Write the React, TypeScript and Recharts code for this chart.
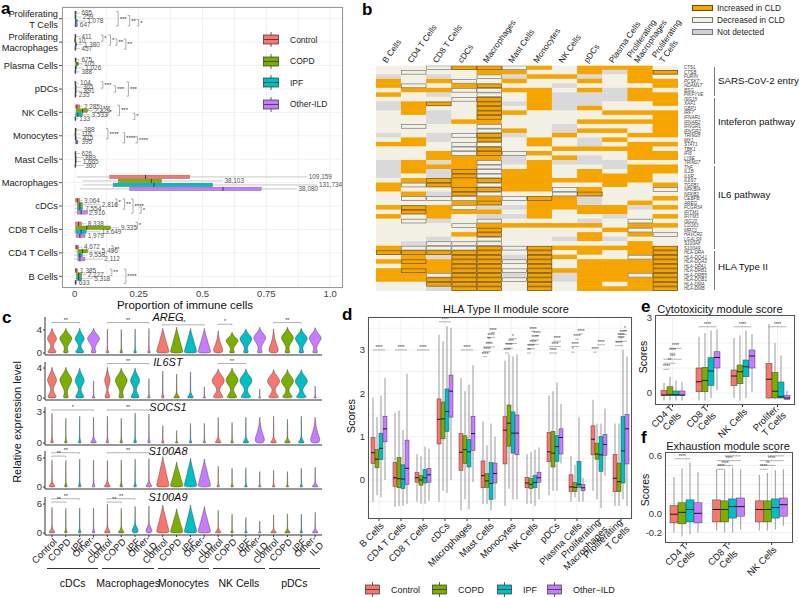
import React from 'react';
import {
  ComposedChart, ScatterChart, Scatter, Bar, XAxis, YAxis, CartesianGrid, ReferenceLine, ReferenceDot,
} from 'recharts';

const FONT = '"Liberation Sans", Arial, Helvetica, sans-serif';

const groups = ['Control', 'COPD', 'IPF', 'Other-ILD'];
const gKeys = ['ctrl', 'copd', 'ipf', 'ild'];
const gColors = ['#F8766D', '#7CAE00', '#00BFC4', '#C77CFF'];

type Sig = [number, number, number, number, string];

// ---------- a: proportion of immune cells  [min, q1, median, q3, max] ----------
const catA = ['Proliferating\nT Cells', 'Proliferating\nMacrophages', 'Plasma Cells', 'pDCs', 'NK Cells', 'Monocytes',
  'Mast Cells', 'Macrophages', 'cDCs', 'CD8 T Cells', 'CD4 T Cells', 'B Cells'];
const aCtrl = [
  [0, 0.001, 0.002, 0.006, 0.02], [0, 0.001, 0.002, 0.004, 0.02], [0, 0.001, 0.003, 0.006, 0.02],
  [0, 0.001, 0.002, 0.004, 0.015], [0, 0.003, 0.008, 0.02, 0.03], [0, 0.001, 0.003, 0.006, 0.03],
  [0, 0.001, 0.002, 0.004, 0.02], [0.007, 0.137, 0.277, 0.45, 0.91], [0, 0.004, 0.01, 0.02, 0.03],
  [0, 0.004, 0.015, 0.027, 0.045], [0, 0.003, 0.008, 0.015, 0.03], [0, 0.002, 0.005, 0.01, 0.015],
];
const aCopd = [
  [0, 0.001, 0.002, 0.005, 0.025], [0, 0.0005, 0.001, 0.002, 0.008], [0, 0.004, 0.008, 0.015, 0.03],
  [0, 0.001, 0.003, 0.006, 0.025], [0, 0.006, 0.03, 0.05, 0.07], [0, 0.001, 0.002, 0.005, 0.02],
  [0, 0.001, 0.003, 0.006, 0.035], [0.03, 0.17, 0.3, 0.34, 0.58], [0, 0.01, 0.02, 0.03, 0.1],
  [0, 0.004, 0.047, 0.14, 0.175], [0, 0.012, 0.03, 0.05, 0.1], [0, 0.007, 0.015, 0.027, 0.045],
];
const aIpf = [
  [0, 0.002, 0.004, 0.01, 0.043], [0, 0.002, 0.004, 0.008, 0.03], [0, 0.001, 0.003, 0.007, 0.035],
  [0, 0.001, 0.003, 0.006, 0.03], [0, 0.004, 0.012, 0.03, 0.06], [0, 0.001, 0.003, 0.006, 0.025],
  [0, 0.001, 0.003, 0.006, 0.025], [0.03, 0.15, 0.31, 0.54, 0.95], [0, 0.01, 0.02, 0.03, 0.035],
  [0, 0.004, 0.025, 0.045, 0.1], [0, 0.012, 0.02, 0.03, 0.05], [0, 0.007, 0.015, 0.027, 0.07],
];
const aIld = [
  [0, 0.001, 0.004, 0.01, 0.014], [0, 0.001, 0.002, 0.004, 0.02], [0, 0.001, 0.002, 0.004, 0.02],
  [0, 0.001, 0.002, 0.004, 0.01], [0, 0.001, 0.002, 0.004, 0.012], [0, 0.004, 0.008, 0.012, 0.02],
  [0, 0.001, 0.002, 0.004, 0.035], [0.02, 0.215, 0.58, 0.73, 0.87], [0, 0.01, 0.025, 0.05, 0.05],
  [0, 0.007, 0.02, 0.04, 0.045], [0, 0.012, 0.02, 0.04, 0.11], [0, 0.001, 0.003, 0.006, 0.01],
];
const aCounts = [
  ['695', '259', '1,078', '647'], ['411', '10', '1,380', '457'], ['675', '105', '1,026', '388'],
  ['104', '365', '891', '235'], ['2,285', '2,329', '3,533', '133'], ['388', '116', '415', '395'],
  ['626', '889', '1,665', '360'], ['109,159', '38,103', '131,734', '38,080'], ['3,064', '2,816', '7,554', '2,916'],
  ['8,338', '9,335', '13,649', '1,979'], ['4,672', '5,496', '9,558', '2,112'], ['1,385', '2,227', '5,318', '633'],
];
// [category, group from, group to, x value, stars]
const aSig: Sig[] = [
  [0, 0, 3, 0.17, '***'], [0, 1, 3, 0.215, '**'], [0, 2, 3, 0.25, '*'],
  [1, 0, 1, 0.11, '*'], [1, 0, 2, 0.14, '*'], [1, 1, 2, 0.165, '**'], [1, 1, 3, 0.2, '**'],
  [3, 0, 1, 0.11, '***'], [3, 1, 2, 0.16, '***'], [3, 0, 3, 0.21, '***'],
  [4, 0, 1, 0.105, '***'], [4, 1, 2, 0.13, '*'], [4, 0, 2, 0.175, '***'], [4, 2, 3, 0.235, '*'],
  [5, 0, 2, 0.13, '****'], [5, 1, 3, 0.195, '****'], [5, 2, 3, 0.245, '****'],
  [8, 0, 1, 0.165, '*'], [8, 0, 2, 0.195, '**'], [8, 0, 3, 0.228, '****'], [8, 2, 3, 0.26, '*'],
  [9, 0, 1, 0.245, '*'], [10, 0, 1, 0.15, '**'], [11, 0, 1, 0.145, '**'], [11, 0, 3, 0.2, '****'],
];

// ---------- b: heatmap ----------
const hmCols = ['B Cells', 'CD4 T Cells', 'CD8 T Cells', 'cDCs', 'Macrophages', 'Mast Cells', 'Monocytes', 'NK Cells',
  'pDCs', 'Plasma Cells', 'Proliferating\nMacrophages', 'Proliferating\nT Cells'];
const hmGenes = ['CTSL', 'CTSB', 'FURIN', 'PCSK7', 'ADAM17', 'BSG', 'PIKFYVE',
  'ISG15', 'XAF1', 'GBP1', 'IRF7', 'IFNAR1', 'IFNAR2', 'IFNGR1', 'IFNGR2', 'TRIM28', 'MX1', 'STAT1', 'TBK1', 'IFI6', 'LY6E', 'TRIM27',
  'TNF', 'IL1B', 'IL6R', 'IL6ST', 'TGFB1', 'NFKBIA', 'NFKB2', 'CEBPB', 'AREG', 'FCGR3A', 'IFITM1', 'IFITM3', 'ISG20', 'CD163',
  'MRC1', 'HAVCR2', 'LGALS9', 'S100A8', 'S100A9',
  'HLA-DRA', 'HLA-DQA1', 'HLA-DQA2', 'HLA-DPA1', 'HLA-DRB1', 'HLA-DRB5', 'HLA-DQB1', 'HLA-DMA', 'HLA-DMB'];
// O increased, o increased (significant), W decreased, w decreased (significant), G not detected
const hmStates = [
  'WWwoowOWOOOW', 'WwWWOOWWOGOo', 'GWGWwGOOGWOW', 'OWOwWOWWOWOO', 'OwWOoWWGWWWO', 'WOOwwOOWOGOW', 'OWGWwWOGGGOO',
  'WWWwoWOGGGOO', 'GOoWoGOGGWWO', 'GOWWoWOGOWWW', 'WOGWoOWWWOOO', 'WWGWoWWWWWWO', 'WWGOOWWWOOOO', 'WwWWwWWGWWWO',
  'WWWWwOWGOOWO', 'GWGwoGWOWWOO', 'WOGWoWOWGOWW', 'OOWwwWOWGWOO', 'WWWwoWWOOOOW', 'WWOwowOWWWOO', 'WWOOOGWOGWOO',
  'GOGOwGOGGGWW', 'GOOOwWOWWGOO', 'GOGowOOWOWOO', 'GWGowOOWOOOW', 'WOoOoOOOOOOW', 'OwoOwOOWWOWO', 'OWWooOOwOWWw',
  'WOGowWWwoWWW', 'WwwwOwoOGWWO', 'WWWOoWOOGWOW', 'OoOwGGOOOOGO', 'WoOOOWOWOOWW', 'OWOWGGOWWGWO', 'WwGWwWWWGWwW',
  'WWWwOOOOOWOO', 'WWWWoWWWWOwW', 'WWWOoWWWOWOw', 'WWGWwWWGOGWW', 'WGwwwWWWWWOW', 'OwwwowoOOOOo',
  'oooooWoWOWOo', 'WOGooGoOWWwo', 'OoOoowoWOOOo', 'WOOooWoWOOOo', 'OoOoowoOOOOo', 'OOwooGoGOOwo', 'OOooowoGOOOo',
  'WWoooWoWOWOo', 'WWGooWoWOOOo',
];
const hmGroups: [string, number, number, number][] = [
  ['SARS-CoV-2 entry', 0, 6, 81], ['Inteferon pathway', 7, 21, 122], ['IL6 pathway', 22, 40, 195], ['HLA Type II', 41, 49, 267],
];

// ---------- c: violins ----------
const cCells = ['cDCs', 'Macrophages', 'Monocytes', 'NK Cells', 'pDCs'];
const cGenes = ['AREG', 'IL6ST', 'SOCS1', 'S100A8', 'S100A9'];
const cMax = [
  [4.3, 4.3, 4.3, 4.3, 4.2, 4.1, 4.2, 4.3, 4.3, 4.5, 4.3, 4.3, 3.9, 3.6, 4.2, 4.5, 4.2, 4.5, 4.3, 4.4],
  [4.1, 4.1, 4.0, 2.3, 4.1, 4.0, 4.0, 2.6, 3.6, 3.2, 3.5, 1.5, 3.9, 4.0, 3.9, 1.2, 3.8, 3.8, 3.8, 1.6],
  [2.9, 2.4, 2.6, 2.5, 2.6, 2.4, 2.9, 2.8, 1.7, 1.2, 1.9, 1.9, 2.5, 2.0, 2.5, 2.5, 2.6, 2.3, 2.6, 2.5],
  [5.6, 5.5, 5.8, 5.6, 5.5, 5.6, 5.8, 5.9, 6.3, 5.2, 6.0, 5.8, 4.3, 3.9, 4.0, 3.2, 3.5, 3.2, 3.9, 4.1],
  [5.3, 5.1, 5.2, 5.2, 6.0, 5.1, 5.5, 5.6, 5.8, 5.0, 5.8, 5.5, 4.7, 3.9, 3.2, 2.5, 3.8, 4.0, 3.9, 4.3],
];
const cShape = [
  ['bimodal', 'diamond', 'bimodal', 'diamond', 'spike', 'spike', 'spike', 'spike', 'tent', 'tent', 'tent', 'tent',
    'tear', 'diamond', 'diamond', 'diamond', 'tear', 'diamond', 'diamond', 'diamond'],
  ['bimodal', 'diamond', 'bimodal', 'spike', 'thin', 'diamond', 'bimodal', 'spike', 'spike', 'blob', 'blob', 'spike',
    'bowtie', 'bowtie', 'bowtie', 'spike', 'bowtie', 'bowtie', 'bowtie', 'spike'],
  ['spike', 'spike', 'spike', 'blob', 'spike', 'spike', 'spike', 'spike', 'spike', 'spike', 'spike', 'spike',
    'blob', 'spike', 'blob', 'tear', 'blob', 'blob', 'blob', 'tear'],
  ['blob', 'spike', 'spike', 'spike', 'blob', 'spike', 'spike', 'blob', 'tent', 'tent', 'tent', 'tent',
    'spike', 'spike', 'spike', 'spike', 'spike', 'spike', 'spike', 'blob'],
  ['blob', 'spike', 'spike', 'spike', 'blob', 'blob', 'lowBulb', 'lowBulb', 'tent', 'tent', 'tent', 'tent',
    'blob', 'spike', 'spike', 'spike', 'blob', 'blob', 'spike', 'blob'],
];
const cTicks = [[0, 4], [0, 4], [0, 3], [0, 6], [0, 6]];
// [cell, group from, group to, y value, stars]
const cSig: Sig[][] = [
  [[0, 0, 2, 5.3, '**'], [1, 0, 3, 5.3, '**'], [2, 0, 3, 4.9, '**'], [3, 0, 1, 5.0, '*'], [4, 0, 2, 5.3, '**']],
  [[1, 0, 3, 4.6, '**'], [3, 0, 2, 4.6, '**']],
  [[0, 0, 3, 3.2, '*'], [1, 0, 3, 3.2, '**']],
  [[0, 0, 1, 6.4, '**'], [0, 0, 2, 7.1, '**'], [1, 0, 3, 7.1, '**']],
  [[0, 0, 1, 6.4, '**'], [0, 0, 2, 7.1, '**'], [1, 0, 1, 6.4, '**'], [1, 0, 2, 7.1, '**']],
];
const profiles: Record<string, number[]> = {
  spike: [0.3, 0.09, 0.045, 0.035, 0.03, 0.03, 0.028, 0.025, 0.02, 0.015, 0],
  blob: [0.6, 0.25, 0.07, 0.04, 0.035, 0.03, 0.028, 0.025, 0.02, 0.015, 0],
  lowBulb: [0.4, 0.5, 0.3, 0.1, 0.05, 0.035, 0.03, 0.025, 0.02, 0.015, 0],
  bimodal: [0.75, 0.55, 0.25, 0.2, 0.35, 0.65, 0.75, 0.55, 0.3, 0.1, 0],
  thin: [0.45, 0.3, 0.12, 0.1, 0.22, 0.4, 0.45, 0.3, 0.15, 0.05, 0],
  diamond: [0.45, 0.3, 0.22, 0.35, 0.6, 0.85, 1.0, 0.75, 0.4, 0.12, 0],
  tent: [1.0, 0.95, 0.85, 0.72, 0.6, 0.5, 0.4, 0.28, 0.17, 0.07, 0],
  bowtie: [0.9, 0.6, 0.3, 0.22, 0.45, 0.85, 1.0, 0.8, 0.45, 0.12, 0],
  tear: [0.55, 0.75, 0.7, 0.55, 0.42, 0.3, 0.2, 0.13, 0.08, 0.04, 0],
};

// ---------- d: HLA type II module score ----------
const catD = ['B Cells', 'CD4 T Cells', 'CD8 T Cells', 'cDCs', 'Macrophages', 'Mast Cells', 'Monocytes', 'NK Cells',
  'pDCs', 'Plasma Cells', 'Proliferating\nMacrophages', 'Proliferating\nT Cells'];
const dCtrl = [
  [-0.5, 0.38, 0.63, 0.98, 1.9], [-0.62, -0.15, 0.05, 0.4, 1.55], [-0.5, -0.05, 0.05, 0.17, 0.6], [-0.5, 0.83, 1.4, 1.87, 3.35],
  [-0.7, 0.22, 0.64, 1.07, 2.35], [-0.55, -0.18, 0.1, 0.44, 1.35], [-0.6, 0.37, 1.15, 1.46, 2.75], [-0.55, -0.18, -0.07, 0.06, 0.6],
  [-0.35, 0.42, 0.65, 1.1, 1.95], [-0.5, -0.27, -0.16, 0.12, 0.55], [-0.25, 0.58, 0.94, 1.25, 1.85], [-0.6, -0.27, 0.04, 0.59, 1.3],
];
const dCopd = [
  [-0.35, 0.28, 0.48, 0.7, 1.45], [-0.6, -0.18, 0.03, 0.52, 1.6], [-0.55, -0.12, 0.0, 0.1, 0.55], [-0.25, 0.95, 1.41, 1.8, 3.2],
  [-0.45, 0.38, 0.7, 1.02, 2.05], [-0.55, -0.17, -0.02, 0.15, 0.8], [-0.2, 0.78, 1.31, 1.73, 2.9], [-0.55, -0.2, -0.1, 0.03, 0.65],
  [-0.25, 0.3, 0.62, 1.12, 2.05], [-0.4, -0.27, -0.17, -0.06, 0.35], [-0.45, 0.48, 0.6, 0.85, 1.3], [-0.6, -0.27, -0.04, 0.39, 1.3],
];
const dIpf = [
  [-0.4, 0.47, 0.73, 1.08, 1.95], [-0.6, -0.2, 0.02, 0.35, 1.15], [-0.55, -0.07, 0.05, 0.24, 0.77], [-0.3, 1.12, 1.58, 2.1, 3.55],
  [-0.68, 0.3, 0.65, 0.93, 2.2], [-0.7, -0.45, -0.08, 0.4, 1.3], [-0.45, 0.62, 1.08, 1.57, 2.85], [-0.6, -0.18, -0.06, 0.1, 0.7],
  [-0.25, 0.43, 0.77, 1.02, 2.25], [-0.5, -0.17, -0.1, 0.43, 1.45], [-0.65, 0.2, 0.58, 1.0, 1.3], [-0.45, -0.07, 0.67, 1.46, 3.0],
];
const dIld = [
  [0.0, 0.88, 1.18, 1.47, 2.35], [-0.55, -0.1, 0.27, 0.92, 2.45], [-0.48, -0.05, 0.12, 0.27, 0.72], [0.0, 1.45, 2.05, 2.42, 3.5],
  [-0.05, 0.68, 1.07, 1.47, 2.65], [-0.45, -0.07, 0.15, 0.39, 1.0], [-0.45, 0.58, 1.08, 1.5, 2.9], [-0.45, -0.05, 0.05, 0.18, 0.75],
  [0.38, 0.6, 0.98, 1.18, 1.75], [-0.5, -0.25, -0.18, -0.1, 0.05], [0.1, 0.57, 0.82, 1.05, 1.65], [-0.6, 0.37, 1.18, 1.51, 2.85],
];
const dSig: Sig[] = [
  [0, 0, 3, 3.0, '****'], [1, 0, 3, 3.0, '****'], [2, 0, 3, 3.0, '****'], [3, 0, 3, 3.65, '****'], [4, 0, 3, 3.0, '****'],
  [5, 0, 1, 2.85, '****'], [5, 0, 2, 2.96, '****'], [5, 0, 3, 3.07, '****'], [5, 1, 2, 3.18, '**'], [5, 1, 3, 3.29, '****'], [5, 2, 3, 3.4, '****'],
  [6, 0, 1, 2.93, '****'], [6, 0, 2, 3.04, '****'], [6, 0, 3, 3.15, '***'], [6, 1, 3, 3.26, '*'],
  [7, 0, 1, 2.93, '**'], [7, 0, 2, 3.03, '****'], [7, 0, 3, 3.13, '****'], [7, 1, 3, 3.23, '****'], [7, 2, 3, 3.33, '****'], [7, 1, 2, 3.43, '****'],
  [8, 0, 2, 2.93, '****'], [8, 0, 3, 3.08, '****'], [8, 1, 3, 3.2, '****'],
  [9, 0, 1, 2.95, '*'], [9, 0, 2, 3.08, '****'], [9, 1, 2, 3.25, '****'], [9, 2, 3, 3.37, '****'],
  [10, 0, 1, 2.95, '****'], [10, 1, 3, 3.12, '****'],
  [11, 0, 2, 3.1, '****'], [11, 0, 3, 3.2, '****'], [11, 1, 2, 3.28, '****'], [11, 1, 3, 3.36, '****'], [11, 2, 3, 3.45, '*'],
];

// ---------- e: cytotoxicity module score ----------
const catE = ['CD4 T\nCells', 'CD8 T\nCells', 'NK Cells', 'Prolifer.\nT Cells'];
const eCtrl = [[-0.3, -0.1, -0.08, 0.1, 0.4], [-0.3, 0.05, 0.45, 1.0, 2.25], [-0.2, 0.29, 0.68, 0.92, 2.2], [-0.25, -0.2, 0.55, 1.18, 2.75]];
const eCopd = [[-0.3, -0.1, -0.07, 0.25, 0.65], [-0.3, 0.05, 0.5, 1.03, 2.4], [-0.3, 0.37, 0.85, 1.12, 2.3], [-0.25, -0.2, 0.07, 0.82, 2.0]];
const eIpf = [[-0.3, -0.1, -0.07, 0.08, 0.5], [-0.2, 0.3, 0.88, 1.41, 2.5], [-0.2, 0.65, 1.05, 1.32, 2.5], [-0.25, -0.2, -0.15, 0.44, 1.5]];
const eIld = [[-0.3, -0.1, -0.08, 0.08, 0.45], [0.1, 1.0, 1.42, 1.65, 2.55], [0.05, 1.0, 1.48, 1.72, 2.35], [-0.28, -0.25, -0.2, -0.1, 0.1]];
const eSig: Sig[] = [
  [0, 0, 1, 0.95, '****'], [0, 0, 2, 1.19, '**'], [0, 0, 3, 1.35, '***'], [0, 1, 2, 1.59, '****'], [0, 1, 3, 1.79, '****'],
  [1, 0, 3, 2.65, '****'], [2, 0, 3, 2.65, '****'], [3, 0, 3, 2.65, '****'],
];

// ---------- f: exhaustion module score ----------
const catF = ['CD4 T\nCells', 'CD8 T\nCells', 'NK Cells'];
const fCtrl = [[-0.2, -0.1, -0.01, 0.08, 0.38], [-0.18, -0.09, 0.04, 0.14, 0.46], [-0.18, -0.09, 0.04, 0.13, 0.4]];
const fCopd = [[-0.24, -0.11, 0.01, 0.11, 0.47], [-0.2, -0.09, 0.04, 0.13, 0.45], [-0.18, -0.09, 0.04, 0.13, 0.42]];
const fIpf = [[-0.22, -0.09, 0.04, 0.14, 0.53], [-0.2, -0.05, 0.07, 0.15, 0.48], [-0.17, -0.05, 0.06, 0.15, 0.45]];
const fIld = [[-0.2, -0.1, 0.0, 0.11, 0.43], [-0.17, -0.03, 0.07, 0.16, 0.46], [-0.13, -0.03, 0.09, 0.16, 0.46]];
const fSig: Sig[] = [
  [0, 0, 2, 0.57, '****'],
  [1, 0, 1, 0.46, '****'], [1, 0, 2, 0.5, '****'], [1, 0, 3, 0.55, '****'], [1, 1, 3, 0.6, '****'],
  [2, 0, 1, 0.46, '****'], [2, 0, 2, 0.5, '**'], [2, 0, 3, 0.55, '****'], [2, 1, 3, 0.6, '***'],
];

// ---------- helpers ----------
const boxRows = (cats: string[], sets: number[][][], counts?: string[][]) =>
  cats.map((cat, i) => ({ cat, idx: i, ctrl: sets[0][i], copd: sets[1][i], ipf: sets[2][i], ild: sets[3][i], n: counts ? counts[i] : [] }));

// hidden index axes span [0, n-1] across the plot; map a band position (centre of band i = i) onto them
const onIdx = (p: number, n: number) => ((p + 0.5) * (n - 1)) / n;

const HBox = (p: any) => {
  const b: number[] = p.payload[p.gk];
  const lo = Math.min(p.x, p.x + p.width);
  const hi = Math.max(p.x, p.x + p.width);
  const px = (v: number) => lo + ((v - b[0]) / (b[4] - b[0])) * (hi - lo);
  const cy = p.y + p.height / 2;
  const q1 = px(b[1]);
  const q3 = px(b[3]);
  return (
    <g>
      <line x1={px(b[0])} x2={px(b[4])} y1={cy} y2={cy} stroke="#b0b0b0" strokeWidth={0.7} />
      <rect x={q1} y={p.y + 0.2} width={Math.max(1, q3 - q1)} height={p.height - 0.4} fill={gColors[p.gi]} stroke="#666" strokeWidth={0.35} />
      <line x1={px(b[2])} x2={px(b[2])} y1={p.y} y2={p.y + p.height} stroke="#333" strokeWidth={0.9} />
      <text x={px(b[4]) + 1.5} y={cy + 2.2} fontSize={6.4} fill="#555" fontFamily={FONT}>{p.payload.n[p.gi]}</text>
    </g>
  );
};

const VBox = (p: any) => {
  const b: number[] = p.payload[p.gk];
  const top = Math.min(p.y, p.y + p.height);
  const bot = Math.max(p.y, p.y + p.height);
  const py = (v: number) => bot - ((v - b[0]) / (b[4] - b[0])) * (bot - top);
  const cx = p.x + p.width / 2;
  return (
    <g>
      <line x1={cx} x2={cx} y1={py(b[4])} y2={py(b[0])} stroke="#555" strokeWidth={0.6} />
      <rect x={p.x} y={py(b[3])} width={p.width} height={Math.max(0.6, py(b[1]) - py(b[3]))} fill={gColors[p.gi]} stroke="#444" strokeWidth={0.5} />
      <line x1={p.x} x2={p.x + p.width} y1={py(b[2])} y2={py(b[2])} stroke="#1a1a1a" strokeWidth={1} />
    </g>
  );
};

const VW = 6.3;
const Violin = (p: any) => {
  const d = p.payload;
  const prof = profiles[d.shape];
  const top = Math.min(p.y, p.y + p.height);
  const bot = Math.max(p.y, p.y + p.height);
  const cx = p.x + p.width / 2;
  const n = prof.length - 1;
  const left = prof.map((w, i) => [cx - w * VW, bot - (i / n) * (bot - top)]);
  const right = prof.map((w, i) => [cx + w * VW, bot - (i / n) * (bot - top)]).reverse();
  const pts = [...left, ...right];
  let path = `M${(pts[pts.length - 1][0] + pts[0][0]) / 2},${pts[0][1]}`;
  for (let i = 0; i < pts.length; i++) {
    const a = pts[i];
    const b = pts[(i + 1) % pts.length];
    path += ` Q${a[0]},${a[1]} ${(a[0] + b[0]) / 2},${(a[1] + b[1]) / 2}`;
  }
  return <path d={path + 'Z'} fill={gColors[d.g]} stroke="#333" strokeWidth={0.4} />;
};

const starText = (t: string, fs: number, dx: number, dy: number, anchor: string) => (p: any) => (
  <text x={p.cx + dx} y={p.cy + dy} textAnchor={anchor} fontSize={fs} fill="#333" fontFamily={FONT}>{t}</text>
);

// brackets for vertical box/violin charts: horizontal line at y = v between two band positions
function sigVert(sig: Sig[], n: number, xa: (s: Sig) => number, xb: (s: Sig) => number, tip: number, fs: number, pre: string) {
  return sig.flatMap((s, i) => {
    const a = onIdx(xa(s), n);
    const b = onIdx(xb(s), n);
    const v = s[3];
    const out = [
      <ReferenceLine key={`${pre}m${i}`} xAxisId="n" segment={[{ x: a, y: v }, { x: b, y: v }]} stroke="#666" strokeWidth={0.5} ifOverflow="visible" />,
      <ReferenceDot key={`${pre}t${i}`} xAxisId="n" x={(a + b) / 2} y={v} r={0} ifOverflow="visible" shape={starText(s[4], fs, 0, -0.8, 'middle')} />,
    ];
    if (tip > 0) {
      out.push(<ReferenceLine key={`${pre}a${i}`} xAxisId="n" segment={[{ x: a, y: v }, { x: a, y: v - tip }]} stroke="#666" strokeWidth={0.5} ifOverflow="visible" />);
      out.push(<ReferenceLine key={`${pre}b${i}`} xAxisId="n" segment={[{ x: b, y: v }, { x: b, y: v - tip }]} stroke="#666" strokeWidth={0.5} ifOverflow="visible" />);
    }
    return out;
  });
}

const RotTick = (p: any) => {
  const lines = String(p.payload.value).split('\n');
  return (
    <g transform={`translate(${p.x + 3},${p.y + 1})`}>
      <text transform="rotate(-45)" textAnchor="end" fontSize={9.5} fill="#1a1a1a" fontFamily={FONT}>
        {lines.map((l, i) => (
          <tspan key={i} x={0} dy={i === 0 ? 3.5 - (lines.length - 1) * 5 : 10}>{l}</tspan>
        ))}
      </text>
    </g>
  );
};

const ATick = (p: any) => {
  const lines = String(p.payload.value).split('\n');
  return (
    <text x={p.x} y={p.y} textAnchor="end" fontSize={9.3} fill="#1a1a1a" fontFamily={FONT}>
      {lines.map((l, i) => (
        <tspan key={i} x={p.x} dy={i === 0 ? 3.3 - (lines.length - 1) * 5.5 : 11.5}>{l}</tspan>
      ))}
    </text>
  );
};

const HTick = (p: any) => {
  const lines = hmCols[p.payload.value].split('\n');
  return (
    <text transform={`translate(${p.x - 2},${p.y}) rotate(-55)`} fontSize={8.3} fill="#1a1a1a" fontFamily={FONT}>
      {lines.map((l, i) => (
        <tspan key={i} x={0} dy={i === 0 ? -(lines.length - 1) * 9 : 9}>{l}</tspan>
      ))}
    </text>
  );
};

const cellW = 302 / hmCols.length;
const cellH = 225.5 / hmGenes.length;
const cellStyle: Record<string, [string, string]> = {
  O: ['#F6A400', 'none'], o: ['#F6A400', '#6a4a08'], W: ['#F3F1E5', 'none'], w: ['#F3F1E5', '#777'], G: ['#D9D9D9', 'none'],
};
const HeatCell = (p: any) => {
  const [fill, stroke] = cellStyle[p.payload.s];
  const k = stroke === 'none' ? -0.25 : 0.35;
  return (
    <rect x={p.cx - cellW / 2 + k} y={p.cy - cellH / 2 + k} width={cellW - 2 * k} height={cellH - 2 * k}
      fill={fill} stroke={stroke} strokeWidth={stroke === 'none' ? 0 : 0.7} />
  );
};

const Frame = ({ x0, y0, x1, y1, color }: any) => (
  <div style={{ position: 'absolute', left: x0, top: y0, width: x1 - x0, height: y1 - y0, border: `0.8px solid ${color}`, boxSizing: 'border-box', pointerEvents: 'none' }} />
);
const Txt = ({ x, y, size, children, bold, italic, anchor = 'left', color = '#111' }: any) => (
  <div style={{
    position: 'absolute', left: anchor === 'center' ? x - 150 : x, top: y - size / 2, width: anchor === 'center' ? 300 : undefined,
    textAlign: anchor === 'center' ? 'center' : 'left', fontSize: size, lineHeight: `${size}px`, fontWeight: bold ? 700 : 400,
    fontStyle: italic ? 'italic' : 'normal', color, whiteSpace: 'nowrap',
  }}>{children}</div>
);
const Letter = ({ x, base, children }: any) => (
  <div style={{ position: 'absolute', left: x, top: base - 14.4, fontSize: 17, lineHeight: '17px', fontWeight: 700, color: '#000' }}>{children}</div>
);
const VText = ({ x, y, size, children }: any) => (
  <div style={{ position: 'absolute', left: x - 100, top: y - 8, width: 200, height: 16, textAlign: 'center', fontSize: size, lineHeight: '16px', transform: 'rotate(-90deg)', color: '#111' }}>{children}</div>
);
const Key = ({ color, w, h }: any) => (
  <svg width={w} height={h + 6} style={{ display: 'block' }}>
    <line x1={w / 2} x2={w / 2} y1={0} y2={h + 6} stroke="#333" strokeWidth={0.8} />
    <rect x={0.5} y={3} width={w - 1} height={h} fill={color} stroke="#333" strokeWidth={0.7} />
    <line x1={0.5} x2={w - 0.5} y1={3 + h / 2} y2={3 + h / 2} stroke="#333" strokeWidth={0.8} />
  </svg>
);

function VBoxChart(props: any) {
  const { data, width, height, margin, yWidth, xHeight, domain, ticks, fmt, barSize, plotW, sig, starSize } = props;
  const n = data.length;
  const off = (g: number) => ((g - 1.5) * barSize) / (plotW / n);
  return (
    <ComposedChart width={width} height={height} data={data} margin={margin} barGap={0} barSize={barSize}>
      <CartesianGrid stroke="#EBEBEB" strokeWidth={0.7} />
      <XAxis dataKey="cat" interval={0} tick={<RotTick />} height={xHeight} tickSize={2} tickLine={{ stroke: '#333' }} axisLine={false} />
      <XAxis xAxisId="n" type="number" domain={[0, n - 1]} hide allowDataOverflow />
      <YAxis type="number" domain={domain} ticks={ticks} tickFormatter={fmt} width={yWidth} interval={0} allowDataOverflow
        tick={{ fontSize: 9.5, fill: '#333', fontFamily: FONT }} tickLine={false} axisLine={false} tickSize={0} tickMargin={3} />
      {gKeys.map((k, gi) => (
        <Bar key={k} dataKey={(d: any) => [d[k][0], d[k][4]]} isAnimationActive={false}
          shape={(p: any) => <VBox {...p} gk={k} gi={gi} />} />
      ))}
      {sigVert(sig, n, (s) => s[0] + off(s[1]), (s) => s[0] + off(s[2]), 0, starSize, 'v')}
    </ComposedChart>
  );
}

const aData = boxRows(catA, [aCtrl, aCopd, aIpf, aIld], aCounts);
const dData = boxRows(catD, [dCtrl, dCopd, dIpf, dIld]);
const eData = boxRows(catE, [eCtrl, eCopd, eIpf, eIld]);
const fData = boxRows(catF, [fCtrl, fCopd, fIpf, fIld]);
const hmData = hmStates
  .flatMap((row, r) => row.split('').map((s, c) => ({ x: c, y: r, s })))
  .sort((a, b) => Number(a.s === 'o' || a.s === 'w') - Number(b.s === 'o' || b.s === 'w'));
const violinRows = cGenes.map((_, gi) =>
  cCells.flatMap((cell, ci) => groups.map((g, k) => ({
    k: `${cell}|${g}`, g: k, max: cMax[gi][ci * 4 + k], shape: cShape[gi][ci * 4 + k],
  }))));

// layout of the violin rows: baseline (y pixel of 0) and px per unit
const cBase = [353, 398, 443, 487, 533];
const cPpu = [5.75, 7.5, 10.33, 4.83, 4.83];

const aOff = (g: number) => ((g - 1.5) * 4) / (281 / 12);

export default function App() {
  const fmtE = (v: number) => (v === 0 || v === 3 ? String(v) : '');
  const fmtF = (v: number) => (Math.abs(v - 0.6) < 1e-6 ? '0.6' : Math.abs(v) < 1e-6 ? '0.0' : Math.abs(v + 0.2) < 1e-6 ? '-0.2' : '');
  const fmtD = (v: number) => (Number.isInteger(v) ? String(v) : '');
  const cGroupX = (ci: number) => 45 + ci * (277 / 5);
  const nA = catA.length;
  return (
    <div style={{ position: 'absolute', left: 0, top: 0, width: 799, height: 597, background: '#fff', fontFamily: FONT, overflow: 'hidden' }}>
      <style>{'.recharts-surface{overflow:visible}'}</style>

      {/* ---------------- a ---------------- */}
      <div style={{ position: 'absolute', left: 0, top: 0 }}>
        <ComposedChart layout="vertical" width={350} height={312} data={aData} margin={{ top: 7, right: 7, bottom: 10, left: 8 }} barGap={0} barSize={4}>
          <CartesianGrid stroke="#EBEBEB" strokeWidth={0.7} />
          <XAxis type="number" domain={[-0.05, 1.05]} ticks={[0, 0.125, 0.25, 0.375, 0.5, 0.625, 0.75, 0.875, 1]} interval={0}
            tickFormatter={(v: number) => (v === 0 ? '0' : v === 0.25 ? '0.25' : v === 0.5 ? '0.5' : v === 0.75 ? '0.75' : v === 1 ? '1.0' : '')}
            tick={{ fontSize: 9.5, fill: '#444', fontFamily: FONT }} tickLine={false} axisLine={false} height={14} tickSize={0} tickMargin={2} allowDataOverflow />
          <YAxis type="category" dataKey="cat" width={54} interval={0} tick={<ATick />} tickSize={3} tickLine={{ stroke: '#555' }} axisLine={false} tickMargin={1} />
          <YAxis yAxisId="n" type="number" domain={[0, nA - 1]} hide allowDataOverflow />
          {gKeys.map((k, gi) => (
            <Bar key={k} dataKey={(d: any) => [d[k][0], d[k][4]]} isAnimationActive={false}
              shape={(p: any) => <HBox {...p} gk={k} gi={gi} />} />
          ))}
          {aSig.flatMap(([c, g1, g2, v, t], i) => {
            const a = onIdx(c + aOff(g1) - 0.05, nA);
            const b = onIdx(c + aOff(g2) + 0.05, nA);
            return [
              <ReferenceLine key={`as${i}`} yAxisId="n" segment={[{ x: v, y: a }, { x: v, y: b }]} stroke="#777" strokeWidth={0.6} ifOverflow="visible" />,
              <ReferenceLine key={`at${i}`} yAxisId="n" segment={[{ x: v - 0.008, y: a }, { x: v, y: a }]} stroke="#777" strokeWidth={0.6} ifOverflow="visible" />,
              <ReferenceLine key={`ab${i}`} yAxisId="n" segment={[{ x: v - 0.008, y: b }, { x: v, y: b }]} stroke="#777" strokeWidth={0.6} ifOverflow="visible" />,
              <ReferenceDot key={`ad${i}`} yAxisId="n" x={v} y={(a + b) / 2} r={0} ifOverflow="visible" shape={starText(t, 6, 1.5, 2, 'start')} />,
            ];
          })}
        </ComposedChart>
      </div>
      <Frame x0={62} y0={7} x1={343} y1={288} color="#999" />
      <Txt x={185} y={306} size={11.5} anchor="center">Proportion of immune cells</Txt>
      {groups.map((g, i) => (
        <div key={g} style={{ position: 'absolute', left: 263, top: 32 + i * 21.5, display: 'flex', alignItems: 'center' }}>
          <Key color={gColors[i]} w={16} h={9} />
          <span style={{ marginLeft: 11, fontSize: 8.5, color: '#222' }}>{g}</span>
        </div>
      ))}

      {/* ---------------- b ---------------- */}
      <div style={{ position: 'absolute', left: 340, top: 0 }}>
        <ScatterChart width={380} height={300} margin={{ top: 5, right: 8, bottom: 9, left: 36 }}>
          <XAxis type="number" dataKey="x" orientation="top" domain={[-0.5, 11.5]} ticks={hmCols.map((_, i) => i)} interval={0}
            tick={<HTick />} tickLine={false} axisLine={false} height={60.5} tickSize={0} tickMargin={2} allowDataOverflow />
          <YAxis type="number" dataKey="y" orientation="right" domain={[-0.5, 49.5]} reversed ticks={hmGenes.map((_, i) => i)} interval={0}
            tickFormatter={(v: number) => hmGenes[v]} tick={{ fontSize: 4.6, fontStyle: 'italic', fill: '#444', fontFamily: FONT }}
            tickLine={false} axisLine={false} width={34} tickSize={0} tickMargin={6} allowDataOverflow />
          <Scatter data={hmData} shape={HeatCell} isAnimationActive={false} />
        </ScatterChart>
      </div>
      {hmGroups.map(([name, r0, r1, ly]) => (
        <React.Fragment key={name}>
          <div style={{ position: 'absolute', left: 713.5, top: 65.5 + r0 * cellH + 1, width: 1.2, height: (r1 - r0 + 1) * cellH - 2, background: '#777' }} />
          <Txt x={718} y={ly} size={9.7}>{name}</Txt>
        </React.Fragment>
      ))}
      {[['#F6A400', '#6a4a08', 'Increased in CLD'], ['#F3F1E5', '#777', 'Decreased in CLD'], ['#D0D0D0', '#777', 'Not detected']].map(([f, s, t], i) => (
        <div key={t} style={{ position: 'absolute', left: 692, top: 3 + i * 12, display: 'flex', alignItems: 'center' }}>
          <div style={{ width: 21, height: 6, background: f, border: `0.8px solid ${s}`, boxSizing: 'border-box' }} />
          <span style={{ marginLeft: 4, fontSize: 8.3, color: '#222' }}>{t}</span>
        </div>
      ))}

      {/* ---------------- c ---------------- */}
      {violinRows.map((rows, gi) => {
        const last = gi === cGenes.length - 1;
        const xh = last ? 40 : 1;
        const top = cBase[gi] - 38;
        const nV = rows.length;
        return (
          <div key={cGenes[gi]} style={{ position: 'absolute', left: 0, top }}>
            <ComposedChart width={330} height={40 + xh} data={rows} margin={{ top: 2, right: 8, bottom: 0, left: 25 }} barSize={12}>
              <XAxis dataKey="k" interval={0} height={xh} axisLine={{ stroke: '#333' }} tickLine={last ? { stroke: '#333' } : false} tickSize={2}
                tick={last ? ((p: any) => <RotTick {...p} payload={{ value: String(p.payload.value).split('|')[1].replace('Other-ILD', 'Other-\nILD') }} />) : false} />
              <XAxis xAxisId="n" type="number" domain={[0, nV - 1]} hide allowDataOverflow />
              <YAxis type="number" domain={[-2 / cPpu[gi], 36 / cPpu[gi]]} ticks={cTicks[gi]} interval={0} width={20} allowDataOverflow
                tick={{ fontSize: 9.5, fill: '#333', fontFamily: FONT }} tickSize={2} tickLine={{ stroke: '#333' }} axisLine={{ stroke: '#333' }} tickMargin={1} />
              <Bar dataKey={(d: any) => [0, d.max]} shape={Violin} isAnimationActive={false} />
              {sigVert(cSig[gi], nV, (s) => s[0] * 4 + s[1], (s) => s[0] * 4 + s[2], 0.15 * (7 / cPpu[gi]), 5.5, `c${gi}`)}
            </ComposedChart>
          </div>
        );
      })}
      {cGenes.map((g, i) => (
        <Txt key={g} x={168} y={cBase[i] - 36} size={11} italic anchor="center">{g}</Txt>
      ))}
      <VText x={17} y={422} size={11}>Relative expression level</VText>
      {cCells.map((c, ci) => (
        <React.Fragment key={c}>
          <div style={{ position: 'absolute', left: cGroupX(ci) + 2, top: 568, width: 277 / 5 - 4, height: 0.8, background: '#333' }} />
          <Txt x={cGroupX(ci) + 277 / 10} y={583} size={10.5} anchor="center">{c}</Txt>
        </React.Fragment>
      ))}

      {/* ---------------- d ---------------- */}
      <div style={{ position: 'absolute', left: 330, top: 305 }}>
        <VBoxChart data={dData} width={310} height={272} margin={{ top: 12, right: 8, bottom: 0, left: 24 }} yWidth={14} xHeight={58}
          domain={[-0.9, 3.76]} ticks={[-0.5, 0, 0.5, 1, 1.5, 2, 2.5, 3, 3.5]} fmt={fmtD} barSize={4} plotW={264} sig={dSig} starSize={4.6} />
      </div>
      <Frame x0={368} y0={317} x1={632} y1={519} color="#555" />
      <Txt x={506} y={309} size={11} anchor="center">HLA Type II module score</Txt>
      <VText x={351} y={416} size={11}>Scores</VText>
      {groups.map((g, i) => (
        <div key={g} style={{ position: 'absolute', left: [365, 432, 497, 547][i], top: 582, display: 'flex', alignItems: 'center' }}>
          <Key color={gColors[i]} w={15} h={9} />
          <span style={{ marginLeft: 11, fontSize: 9, color: '#222' }}>{g === 'Other-ILD' ? 'Other\u2212ILD' : g}</span>
        </div>
      ))}

      {/* ---------------- e ---------------- */}
      <div style={{ position: 'absolute', left: 628, top: 305 }}>
        <VBoxChart data={eData} width={171} height={142} margin={{ top: 10, right: 4, bottom: 2, left: 2 }} yWidth={25} xHeight={40}
          domain={[-0.48, 3.12]} ticks={[0, 1, 2, 3]} fmt={fmtE} barSize={6} plotW={140} sig={eSig} starSize={4.6} />
      </div>
      <Frame x0={655} y0={315} x1={795} y1={405} color="#555" />
      <Txt x={720} y={309} size={11} anchor="center">Cytotoxicity module score</Txt>
      <VText x={643} y={357} size={10.5}>Scores</VText>

      {/* ---------------- f ---------------- */}
      <div style={{ position: 'absolute', left: 628, top: 440 }}>
        <VBoxChart data={fData} width={171} height={150} margin={{ top: 12, right: 6, bottom: 2, left: 2 }} yWidth={35} xHeight={45}
          domain={[-0.31, 0.64]} ticks={[-0.2, -0.1, 0, 0.1, 0.2, 0.3, 0.4, 0.5, 0.6]} fmt={fmtF} barSize={8} plotW={128} sig={fSig} starSize={4.6} />
      </div>
      <Frame x0={665} y0={452} x1={793} y1={543} color="#555" />
      <Txt x={728} y={446} size={11} anchor="center">Exhaustion module score</Txt>
      <VText x={645} y={490} size={10.5}>Scores</VText>

      {/* panel letters */}
      <Letter x={1} base={14}>a</Letter>
      <Letter x={362} base={15}>b</Letter>
      <Letter x={2} base={323}>c</Letter>
      <Letter x={342} base={320}>d</Letter>
      <Letter x={641} base={312}>e</Letter>
      <Letter x={641} base={443}>f</Letter>
    </div>
  );
}
